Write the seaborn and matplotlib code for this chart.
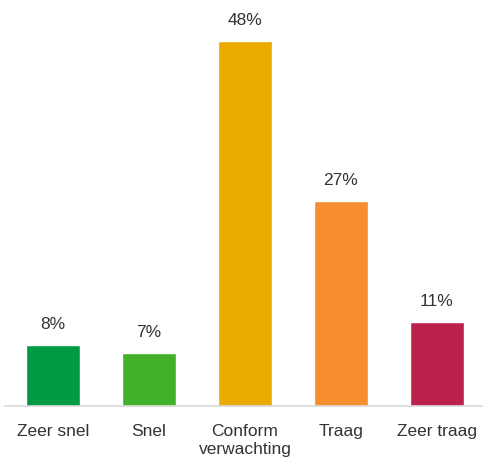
import matplotlib
matplotlib.use("Agg")
import matplotlib.pyplot as plt
import seaborn as sns
import pandas as pd

categories = ["Zeer snel", "Snel", "Conform\nverwachting", "Traag", "Zeer traag"]
values = [8, 7, 48, 27, 11]
colors = ["#009A44", "#43B02A", "#EAAA00", "#F68D2E", "#BC204B"]

df = pd.DataFrame({"cat": categories, "val": values})

sns.set_style("white")
plt.rcParams["font.family"] = ["Liberation Sans", "DejaVu Sans"]

fig = plt.figure(figsize=(4.83, 4.6), dpi=100)
ax = fig.add_axes([5 / 483, 53 / 460, 478 / 483, 387 / 460])

sns.barplot(data=df, x="cat", y="val", hue="cat", palette=colors,
            width=0.5625, saturation=1, legend=False, ax=ax)

for c in ax.containers:
    ax.bar_label(c, labels=[f"{v:.0f}%" for v in c.datavalues],
                 padding=10, fontsize=12.5, color="#333333")

ax.set_xlim(-0.5, 4.48)
ax.set_ylim(0, 50.9)
ax.set_xlabel("")
ax.set_ylabel("")
ax.set_yticks([])
ax.tick_params(axis="x", length=0, pad=12, labelsize=12.5, labelcolor="#333333")
for lbl in ax.get_xticklabels():
    lbl.set_linespacing(1.25)
for s in ["top", "right", "left"]:
    ax.spines[s].set_visible(False)
ax.spines["bottom"].set_color("#d9d9d9")
ax.spines["bottom"].set_linewidth(1.2)

fig.savefig("out.png", dpi=100)
plt.close(fig)
